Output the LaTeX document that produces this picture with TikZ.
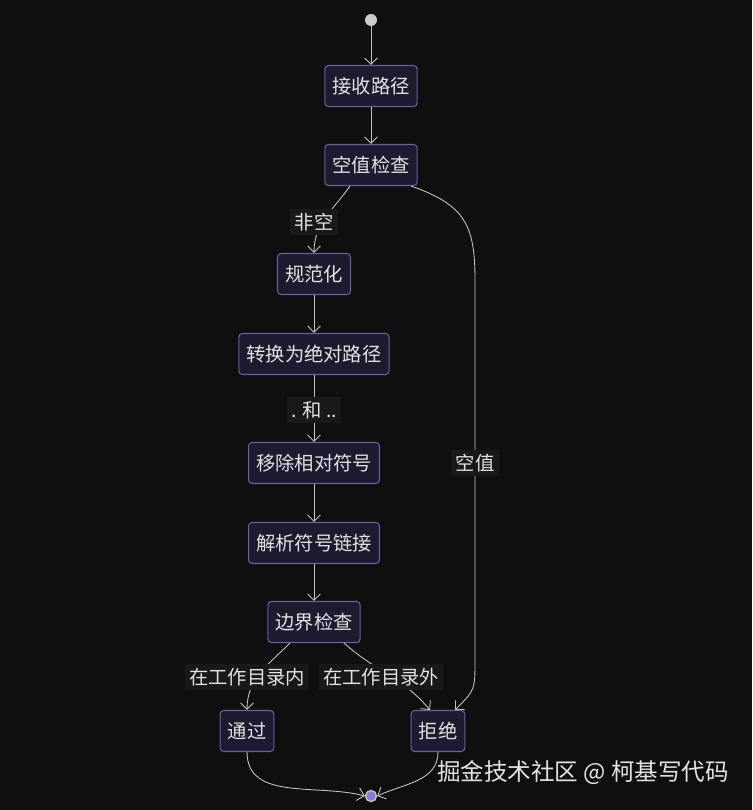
\documentclass[tikz,border=0pt]{standalone}
\usepackage{fontspec}
\setmainfont{Noto Sans CJK SC}
\usetikzlibrary{arrows.meta,positioning}
\definecolor{canvas}{HTML}{0F0F10}
\definecolor{boxfill}{HTML}{1E1B31}
\definecolor{boxline}{HTML}{6A5E9E}
\definecolor{inktext}{HTML}{E2E2E2}
\definecolor{edgegray}{HTML}{C4C4C4}
\definecolor{labelbg}{HTML}{19191C}
\definecolor{endpurple}{HTML}{8878E0}
\tikzset{
  state/.style={draw=boxline,fill=boxfill,text=inktext,rounded corners=2pt,line width=0.6pt,minimum height=0.82cm,inner xsep=0.15cm,font=\fontsize{11}{13}\selectfont},
  flow/.style={-{Straight Barb[length=1.3mm,width=2.6mm]},edgegray,line width=0.5pt},
  edgelabel/.style={fill=labelbg,text=inktext,inner sep=2.5pt,font=\fontsize{11}{13}\selectfont},
  startdot/.style={circle,fill=edgegray!90,minimum size=0.24cm,inner sep=0pt},
  enddot/.style={circle,draw=edgegray,fill=endpurple,line width=0.8pt,minimum size=0.22cm,inner sep=0pt}
}

\begin{document}
\begin{tikzpicture}[x=0.02cm,y=0.02cm]
  \fill[canvas] (0,0) rectangle (752,-810);
  \useasboundingbox (0,0) rectangle (752,-810);
  \node[startdot] (init) at (371,-20) {};
  \node[state] (recv) at (371,-86) {接收路径};
  \node[state] (chk) at (371,-165) {空值检查};
  \node[state] (norm) at (314,-274) {规范化};
  \node[state] (abs) at (314,-354) {转换为绝对路径};
  \node[state] (strip) at (314,-463) {移除相对符号};
  \node[state] (link) at (314,-543) {解析符号链接};
  \node[state] (bound) at (314,-622) {边界检查};
  \node[state] (pass) at (247,-731) {通过};
  \node[state] (reject) at (438,-731) {拒绝};
  \node[enddot] (fin) at (371,-796) {};
  \coordinate (bendtop) at (475,-280);
  \coordinate (bendlow) at (475,-660);

  \draw[flow] (init) -- (recv);
  \draw[flow] (recv) -- (chk);
  \draw[flow] ([xshift=-0.42cm]chk.south) to[out=-125,in=90] (norm.north);
  \draw[flow] ([xshift=0.8cm]chk.south) .. controls (465,-205) and (475,-225) .. (bendtop) -- (bendlow)
    .. controls (475,-690) .. ([xshift=0.34cm]reject.north);
  \draw[flow] (norm) -- (abs);
  \draw[flow] (abs) -- (strip);
  \draw[flow] (strip) -- (link);
  \draw[flow] (link) -- (bound);
  \draw[flow] ([xshift=-0.48cm]bound.south) to[out=-135,in=90] (pass.north);
  \draw[flow] ([xshift=0.6cm]bound.south) to[out=-42,in=130] ([xshift=-0.16cm]reject.north);
  \draw[flow] (pass.south) to[out=-90,in=165] (fin.west);
  \draw[flow] (reject.south) to[out=-90,in=25] (fin.east);

  \node[edgelabel] (nonempty) at (314,-222) {非空};
  \node[edgelabel] (dots) at (314,-410) {. 和 ..};
  \node[edgelabel] (empty) at (475,-463) {空值};
  \node[edgelabel] (inside) at (247,-677) {在工作目录内};
  \node[edgelabel] (outside) at (381,-677) {在工作目录外};
  \node[text=inktext!95,font=\fontsize{13.4}{15}\selectfont,inner sep=0pt] (credit) at (583,-773) {掘金技术社区 @ 柯基写代码};
\end{tikzpicture}
\end{document}
